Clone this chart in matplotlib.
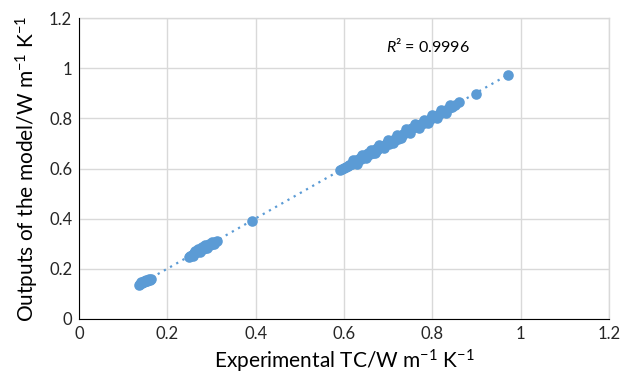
import numpy as np
import matplotlib
matplotlib.use('Agg')
import matplotlib.pyplot as plt

plt.rcParams['font.family'] = ['Lato', 'DejaVu Sans']
plt.rcParams['mathtext.fontset'] = 'custom'
plt.rcParams['mathtext.rm'] = 'Lato'
plt.rcParams['mathtext.it'] = 'Lato:italic'

# experimental TC vs model outputs (W m-1 K-1)
x_low = [0.136, 0.139, 0.142, 0.145, 0.148, 0.151, 0.154, 0.157, 0.160, 0.163,
         0.140, 0.146, 0.152, 0.158]
y_low = [0.135, 0.140, 0.143, 0.146, 0.149, 0.151, 0.153, 0.155, 0.157, 0.159,
         0.146, 0.152, 0.156, 0.161]

x_mid = [0.248, 0.252, 0.256, 0.260, 0.264, 0.268, 0.272, 0.276, 0.280, 0.284,
         0.288, 0.292, 0.296, 0.300, 0.304, 0.308, 0.312, 0.262, 0.270, 0.278,
         0.286, 0.294, 0.302, 0.258, 0.274, 0.290, 0.306]
y_mid = [0.246, 0.252, 0.255, 0.262, 0.266, 0.268, 0.274, 0.276, 0.281, 0.283,
         0.289, 0.291, 0.295, 0.300, 0.303, 0.307, 0.312, 0.272, 0.280, 0.288,
         0.294, 0.301, 0.308, 0.250, 0.266, 0.282, 0.298]

x_single = [0.392]
y_single = [0.390]

x_high = [0.590, 0.595, 0.600, 0.604, 0.608, 0.612, 0.615, 0.618, 0.622, 0.625,
          0.628, 0.632, 0.635, 0.638, 0.641, 0.645, 0.648, 0.652, 0.655, 0.658,
          0.662, 0.665, 0.668, 0.672, 0.675, 0.678, 0.682, 0.686, 0.690, 0.694,
          0.698, 0.702, 0.706, 0.710, 0.714, 0.718, 0.722, 0.726, 0.730, 0.734,
          0.738, 0.742, 0.746, 0.750, 0.755, 0.760, 0.765, 0.770, 0.775, 0.780,
          0.785, 0.790, 0.795, 0.800, 0.805, 0.810, 0.815, 0.820, 0.826, 0.832,
          0.838, 0.845, 0.852, 0.860, 0.898, 0.972,
          0.620, 0.640, 0.660, 0.680, 0.700, 0.720, 0.740, 0.760, 0.780, 0.800,
          0.820, 0.840, 0.630, 0.650, 0.670, 0.690, 0.710, 0.730, 0.750, 0.770,
          0.790, 0.810, 0.830]
y_high = [0.596, 0.598, 0.604, 0.606, 0.612, 0.614, 0.620, 0.618, 0.628, 0.626,
          0.634, 0.630, 0.641, 0.636, 0.645, 0.648, 0.652, 0.650, 0.660, 0.656,
          0.668, 0.662, 0.674, 0.670, 0.680, 0.676, 0.684, 0.690, 0.688, 0.696,
          0.700, 0.698, 0.708, 0.712, 0.710, 0.720, 0.716, 0.728, 0.724, 0.736,
          0.742, 0.748, 0.752, 0.756, 0.760, 0.764, 0.768, 0.772, 0.776, 0.780,
          0.787, 0.790, 0.797, 0.800, 0.806, 0.810, 0.816, 0.820, 0.828, 0.834,
          0.840, 0.847, 0.855, 0.864, 0.897, 0.972,
          0.632, 0.652, 0.674, 0.694, 0.714, 0.734, 0.756, 0.778, 0.792, 0.812,
          0.832, 0.852, 0.620, 0.640, 0.660, 0.680, 0.700, 0.720, 0.742, 0.762,
          0.782, 0.802, 0.822]

x_all = np.array(x_low + x_mid + x_single + x_high)
y_all = np.array(y_low + y_mid + y_single + y_high)

blue = '#5B9BD5'

fig = plt.figure(figsize=(6.23, 3.72), dpi=100)
ax = fig.add_axes([0.127, 0.1425, 0.8505, 0.809])

ax.scatter(x_all, y_all, s=58, color=blue, zorder=3, linewidths=0)

# linear trendline
k, b = np.polyfit(x_all, y_all, 1)
xl = np.array([x_all.min(), x_all.max()])
ax.plot(xl, k * xl + b, linestyle=(0, (1, 2.2)), color=blue, lw=1.6, zorder=2)

ax.text(0.79, 1.088, r'$\mathit{R}$² = 0.9996', fontsize=11.5, ha='center', va='center')

ticks = [0, 0.2, 0.4, 0.6, 0.8, 1.0, 1.2]
ticklabels = ['0', '0.2', '0.4', '0.6', '0.8', '1', '1.2']
ax.set_xlim(0, 1.2)
ax.set_ylim(0, 1.2)
ax.set_xticks(ticks)
ax.set_xticklabels(ticklabels)
ax.set_yticks(ticks)
ax.set_yticklabels(ticklabels)
ax.tick_params(length=0, labelsize=12, labelcolor='#262626', pad=5)

ax.grid(True, color='#d9d9d9', lw=1)
ax.set_axisbelow(True)
for s in ['top', 'right']:
    ax.spines[s].set_visible(False)
ax.spines['left'].set_color('black')
ax.spines['bottom'].set_color('black')
# grid at the 1.2 edges
ax.axhline(1.2, color='#d9d9d9', lw=1, clip_on=False, zorder=0)
ax.axvline(1.2, color='#d9d9d9', lw=1, clip_on=False, zorder=0)

ax.set_xlabel('Experimental TC/W m$^{\u2212 1}$ K$^{\u2212 1}$', fontsize=15, labelpad=4)
ax.set_ylabel('Outputs of the model/W m$^{\u2212 1}$ K$^{\u2212 1}$', fontsize=15, labelpad=6)

fig.savefig('out.png', dpi=100)
